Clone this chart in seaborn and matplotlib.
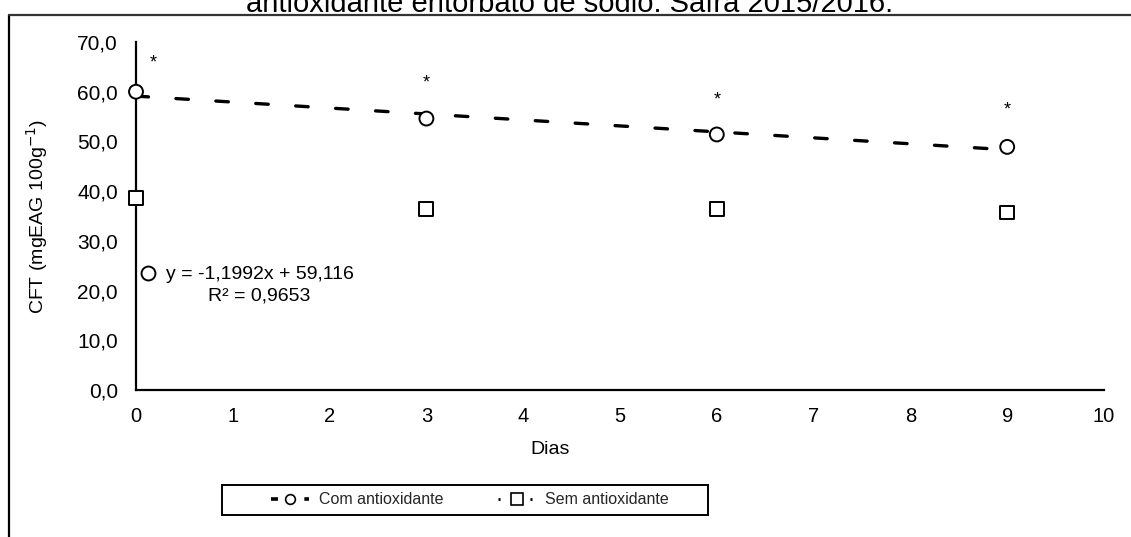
import matplotlib
matplotlib.use("Agg")
import matplotlib.pyplot as plt
from matplotlib.lines import Line2D
from matplotlib.patches import Rectangle
import seaborn as sns
import pandas as pd
import numpy as np

# Storage days and total phenolic content (mg EAG 100 g-1)
dias = [0, 3, 6, 9]
com_antioxidante = [60.0, 54.6, 51.4, 48.9]
sem_antioxidante = [38.7, 36.4, 36.4, 35.7]

# Linear fit reported for the treated samples
coef_a = -1.1992
coef_b = 59.116
r2 = 0.9653

# Significance marks above the treated samples
ast_x = [0.18, 3.0, 6.0, 9.0]
ast_y = [65.8, 61.8, 58.3, 56.3]

x_ticks = list(range(0, 11))
y_ticks = [0, 10, 20, 30, 40, 50, 60, 70]

sns.set_theme(style="white")
plt.rcParams["font.family"] = ["Liberation Sans", "DejaVu Sans"]
plt.rcParams["lines.scale_dashes"] = False

df = pd.DataFrame({
    "Dias": dias * 2,
    "CFT": com_antioxidante + sem_antioxidante,
    "Tratamento": ["Com antioxidante"] * 4 + ["Sem antioxidante"] * 4,
})

W, H = 1131, 537
fig = plt.figure(figsize=(W / 100, H / 100), dpi=100)
ax = fig.add_axes([136 / W, 1 - 390 / H, 968 / W, 348 / H])

# Regression line
xs = np.array([dias[0], dias[-1]], dtype=float)
ax.plot(xs, coef_a * xs + coef_b, color="black", lw=2.4,
        linestyle=(0, (9.0, 19.8)), dash_capstyle="round", zorder=2)

sns.scatterplot(data=df, x="Dias", y="CFT", style="Tratamento",
                markers={"Com antioxidante": "o", "Sem antioxidante": "s"},
                s=100, facecolor="white", edgecolor="black", linewidth=1.4,
                legend=False, ax=ax, zorder=3, clip_on=False)

for xa, ya in zip(ast_x, ast_y):
    ax.text(xa, ya, "*", ha="center", va="center", fontsize=13, color="black")

# Equation label with marker
ax.plot([0.12], [23.5], marker="o", ms=10, mfc="white", mec="black",
        mew=1.4, clip_on=False, zorder=4)
eq = f"y = {coef_a:.4f}x + {coef_b:.3f}\nR² = {r2:.4f}".replace(".", ",")
ax.text(1.276, 21.1, eq, ha="center", va="center", multialignment="center",
        fontsize=14, linespacing=1.3, color="black")

ax.set_xlim(0, 10)
ax.set_ylim(0, 70)
ax.set_xticks(x_ticks)
ax.set_xticklabels([str(t) for t in x_ticks])
ax.set_yticks(y_ticks)
ax.set_yticklabels([f"{t:.1f}".replace(".", ",") for t in y_ticks])
ax.tick_params(axis="y", length=0, labelsize=15, colors="black", pad=13)
ax.tick_params(axis="x", length=0, labelsize=14.5, colors="black", pad=12)

ax.set_xlabel("Dias", fontsize=14, color="black")
ax.xaxis.set_label_coords((550 - 136) / 968, -(441 - 390) / 348)
ax.set_ylabel("CFT (mgEAG 100g$^{-1}$)", fontsize=14, color="black")
ax.yaxis.set_label_coords((50 - 136) / 968, 0.5)

for side in ["top", "right"]:
    ax.spines[side].set_visible(False)
for side in ["left", "bottom"]:
    ax.spines[side].set_color("black")
    ax.spines[side].set_linewidth(1.6)

handles = [
    Line2D([], [], color="black", lw=2.6, linestyle=(0, (5, 7)),
           marker="o", ms=7, mfc="white", mec="black", mew=1.2),
    Line2D([], [], color="black", lw=2.0, linestyle=(0, (1.5, 10)),
           marker="s", ms=8, mfc="white", mec="black", mew=1.2),
]
leg = fig.legend(handles, ["Com antioxidante", "Sem antioxidante"],
                 loc="center", bbox_to_anchor=(470 / W, 1 - 500 / H),
                 ncol=2, frameon=False, fontsize=11.5,
                 handlelength=2.4, columnspacing=3.4, borderpad=0.2,
                 handletextpad=0.6)
fig.add_artist(Rectangle((222 / W, 1 - 515 / H), 486 / W, 30 / H,
                         transform=fig.transFigure, fill=False,
                         edgecolor="black", lw=1.4))

# Page frame and caption line above the chart
fig.add_artist(Line2D([9 / W, 9 / W], [0, 1 - 15 / H],
                      color="black", lw=1.6, transform=fig.transFigure))
fig.add_artist(Line2D([9 / W, 1], [1 - 15 / H, 1 - 15 / H],
                      color="#333333", lw=1.6, transform=fig.transFigure))
fig.text(570 / W, 1 - 12 / H,
         "antioxidante eritorbato de sódio. Safra 2015/2016.",
         ha="center", va="baseline", fontsize=21, color="black")

fig.savefig("out.png", dpi=100)
